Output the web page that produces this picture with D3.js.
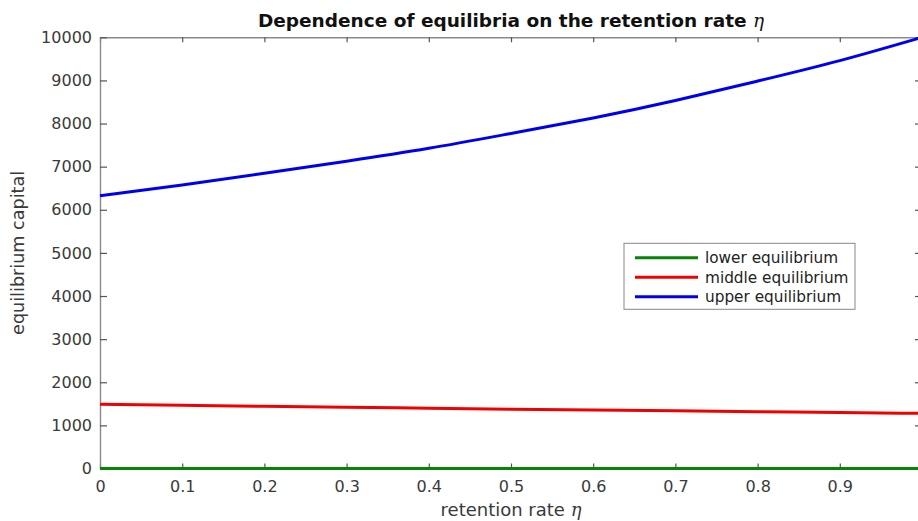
<!DOCTYPE html>
<html>
<head>
<meta charset="utf-8">
<script src="https://cdn.jsdelivr.net/npm/d3@7/dist/d3.min.js"></script>
<style>
  html, body { margin: 0; padding: 0; background: #fff; }
  svg { display: block; }
</style>
</head>
<body>
<svg id="chart" width="918" height="521"></svg>
<script>
// Retention rate grid and the three equilibrium branches
const eta = [0, 0.1, 0.2, 0.3, 0.4, 0.5, 0.6, 0.7, 0.8, 0.9, 1.0];
const lowerEq  = [0, 0, 0, 0, 0, 0, 0, 0, 0, 0, 0];
const middleEq = [1489, 1466, 1443, 1421, 1398, 1376, 1356, 1337, 1318, 1298, 1279];
const upperEq  = [6327, 6575, 6845, 7125, 7425, 7770, 8130, 8535, 8985, 9460, 10000];

const xTicks = [0, 0.1, 0.2, 0.3, 0.4, 0.5, 0.6, 0.7, 0.8, 0.9, 1];
const yTicks = [0, 1000, 2000, 3000, 4000, 5000, 6000, 7000, 8000, 9000, 10000];

const seriesNames  = ["lower equilibrium", "middle equilibrium", "upper equilibrium"];
const seriesColors = ["#058505", "#f00000", "#0000f0"];
const seriesValues = [lowerEq, middleEq, upperEq];

const svg = d3.select("#chart");
const plot = { left: 100, right: 922, top: 37.3, bottom: 468.5 };

const x = d3.scaleLinear().domain([0, 1]).range([plot.left, plot.right]);
const y = d3.scaleLinear().domain([0, 10000]).range([plot.bottom, plot.top]);

const tickFont = "DejaVu Sans, Arial, sans-serif";
const axisColor = "#8a8a8a";
const textColor = "#3a3a3a";

function styleAxis(g) {
  g.select(".domain").attr("stroke", axisColor).attr("stroke-width", 1.4);
  g.selectAll(".tick line").attr("stroke", "#555").attr("stroke-width", 1.2);
  g.selectAll(".tick text").attr("fill", textColor)
    .style("font-family", tickFont).style("font-size", "16px");
}

// Box axes with inward ticks
svg.append("g")
  .attr("transform", `translate(0,${plot.bottom})`)
  .call(d3.axisBottom(x).tickValues(xTicks).tickFormat(d3.format("")).tickSizeInner(-5).tickSizeOuter(0).tickPadding(12.5))
  .call(styleAxis);

svg.append("g")
  .attr("transform", `translate(0,${plot.top})`)
  .call(d3.axisTop(x).tickValues(xTicks).tickFormat("").tickSizeInner(-5).tickSizeOuter(0))
  .call(styleAxis);

svg.append("g")
  .attr("transform", `translate(${plot.left},0)`)
  .call(d3.axisLeft(y).tickValues(yTicks).tickFormat(d3.format("d")).tickSizeInner(-7).tickSizeOuter(0).tickPadding(8))
  .call(styleAxis);

svg.append("g")
  .attr("transform", `translate(${plot.right},0)`)
  .call(d3.axisRight(y).tickValues(yTicks).tickFormat("").tickSizeInner(-7).tickSizeOuter(0))
  .call(styleAxis);

// Equilibrium curves
const line = d3.line()
  .x((d, i) => x(eta[i]))
  .y(d => y(d))
  .curve(d3.curveNatural);

seriesValues.forEach((vals, k) => {
  svg.append("path")
    .datum(vals)
    .attr("fill", "none")
    .attr("stroke", seriesColors[k])
    .attr("stroke-width", 3)
    .attr("stroke-linejoin", "round")
    .attr("d", line);
});

// Title
const title = svg.append("text")
  .attr("x", (plot.left + plot.right) / 2)
  .attr("y", 26.5)
  .attr("text-anchor", "middle")
  .style("font-family", tickFont)
  .style("font-size", "18.5px")
  .style("font-weight", "bold")
  .attr("fill", "#111");
title.append("tspan").text("Dependence of equilibria on the retention rate ");
title.append("tspan").text("η")
  .style("font-family", "DejaVu Serif, Liberation Serif, serif")
  .style("font-style", "italic").style("font-weight", "normal");

// Axis labels
const xLabel = svg.append("text")
  .attr("x", (plot.left + plot.right) / 2)
  .attr("y", 516)
  .attr("text-anchor", "middle")
  .style("font-family", tickFont)
  .style("font-size", "18px")
  .attr("fill", textColor);
xLabel.append("tspan").text("retention rate ");
xLabel.append("tspan").text("η")
  .style("font-family", "DejaVu Serif, Liberation Serif, serif")
  .style("font-style", "italic");

svg.append("text")
  .attr("transform", `translate(24,${(plot.top + plot.bottom) / 2}) rotate(-90)`)
  .attr("text-anchor", "middle")
  .style("font-family", tickFont)
  .style("font-size", "17.6px")
  .attr("fill", textColor)
  .text("equilibrium capital");

// Legend
const legend = svg.append("g").attr("transform", "translate(624,243.3)");
legend.append("rect")
  .attr("width", 231).attr("height", 66)
  .attr("fill", "#fff").attr("stroke", "#888").attr("stroke-width", 1);
seriesNames.forEach((name, k) => {
  const ry = 14.4 + k * 19.5;
  legend.append("line")
    .attr("x1", 11).attr("x2", 74).attr("y1", ry).attr("y2", ry)
    .attr("stroke", seriesColors[k]).attr("stroke-width", 3);
  legend.append("text")
    .attr("x", 81).attr("y", ry).attr("dy", "0.36em")
    .style("font-family", tickFont).style("font-size", "15.3px")
    .attr("fill", "#222")
    .text(name);
});
</script>
</body>
</html>
